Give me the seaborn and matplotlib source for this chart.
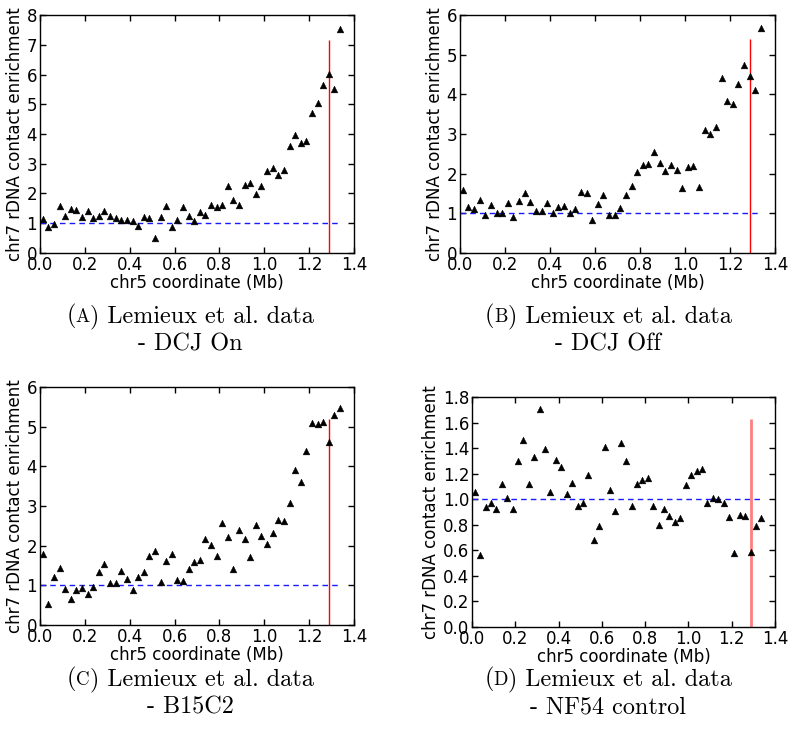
import matplotlib
matplotlib.use("Agg")
import matplotlib.pyplot as plt
import seaborn as sns
import pandas as pd

# Bin centres along chr5 (Mb)
chr5_mb = [0.0125, 0.0375, 0.0625, 0.0875, 0.1125, 0.1375, 0.1625, 0.1875, 0.2125,
           0.2375, 0.2625, 0.2875, 0.3125, 0.3375, 0.3625, 0.3875, 0.4125, 0.4375,
           0.4625, 0.4875, 0.5125, 0.5375, 0.5625, 0.5875, 0.6125, 0.6375, 0.6625,
           0.6875, 0.7125, 0.7375, 0.7625, 0.7875, 0.8125, 0.8375, 0.8625, 0.8875,
           0.9125, 0.9375, 0.9625, 0.9875, 1.0125, 1.0375, 1.0625, 1.0875, 1.1125,
           1.1375, 1.1625, 1.1875, 1.2125, 1.2375, 1.2625, 1.2875, 1.3125, 1.3375]

# chr7 rDNA contact enrichment per bin
dcj_on = [1.15, 0.87, 0.97, 1.58, 1.25, 1.47, 1.45, 1.21, 1.41, 1.17, 1.24, 1.41,
          1.26, 1.17, 1.10, 1.12, 1.08, 0.91, 1.21, 1.17, 0.51, 1.22, 1.58, 0.87,
          1.11, 1.54, 1.23, 1.08, 1.39, 1.28, 1.61, 1.54, 1.61, 2.25, 1.79, 1.63,
          2.30, 2.36, 1.97, 2.26, 2.75, 2.85, 2.63, 2.79, 3.60, 3.96, 3.70, 3.75,
          4.72, 5.03, 5.64, 6.03, 5.51, 7.52]
dcj_off = [1.60, 1.15, 1.10, 1.33, 0.96, 1.21, 1.02, 1.00, 1.27, 0.90, 1.31, 1.52,
           1.28, 1.07, 1.07, 1.27, 1.00, 1.17, 1.19, 1.01, 1.12, 1.55, 1.52, 0.82,
           1.23, 1.45, 0.96, 0.96, 1.14, 1.47, 1.70, 2.03, 2.22, 2.25, 2.55, 2.27,
           2.06, 2.21, 2.10, 1.65, 2.17, 2.19, 1.67, 3.10, 3.00, 3.17, 4.40, 3.84,
           3.76, 4.25, 4.74, 4.47, 4.10, 5.67]
b15c2 = [1.78, 0.54, 1.21, 1.43, 0.91, 0.66, 0.89, 0.94, 0.78, 0.95, 1.34, 1.53,
         1.05, 1.06, 1.37, 1.16, 0.87, 1.22, 1.34, 1.75, 1.87, 1.08, 1.62, 1.78,
         1.14, 1.10, 1.41, 1.58, 1.64, 2.17, 2.01, 1.73, 2.57, 2.23, 1.41, 2.39,
         2.18, 1.72, 2.53, 2.24, 2.05, 2.31, 2.64, 2.63, 3.08, 3.91, 3.60, 4.39,
         5.10, 5.06, 5.13, 4.61, 5.29, 5.47]
nf54 = [1.06, 0.56, 0.94, 0.97, 0.92, 1.12, 1.01, 0.92, 1.30, 1.46, 1.12, 1.33,
        1.71, 1.39, 1.06, 1.31, 1.25, 1.04, 1.13, 0.95, 0.97, 1.19, 0.68, 0.79,
        1.41, 1.07, 0.91, 1.44, 1.30, 0.95, 1.12, 1.15, 1.17, 0.95, 0.80, 0.92,
        0.87, 0.82, 0.85, 1.11, 1.19, 1.22, 1.24, 0.97, 1.01, 1.00, 0.97, 0.86,
        0.58, 0.88, 0.87, 0.59, 0.79, 0.85]

x_ticks = [0.0, 0.2, 0.4, 0.6, 0.8, 1.0, 1.2, 1.4]
marker_pos_mb = 1.29
baseline_end_mb = 1.33

panel_letters = ["A", "B", "C", "D"]
panel_names = ["DCJ On", "DCJ Off", "B15C2", "NF54 control"]
panel_values = [dcj_on, dcj_off, b15c2, nf54]
panel_ymax = [8, 6, 6, 1.8]
panel_yticks = [[0, 1, 2, 3, 4, 5, 6, 7, 8],
                [0, 1, 2, 3, 4, 5, 6],
                [0, 1, 2, 3, 4, 5, 6],
                [0.0, 0.2, 0.4, 0.6, 0.8, 1.0, 1.2, 1.4, 1.6, 1.8]]

sns.set_style("ticks")
plt.rcParams.update({
    "font.family": ["DejaVu Sans"],
    "text.color": "black",
    "axes.labelcolor": "black",
    "axes.edgecolor": "black",
    "xtick.color": "black",
    "ytick.color": "black",
})

W, H = 788, 729
fig = plt.figure(figsize=(W / 100, H / 100), dpi=100)


def px_rect(left, top, right, bottom):
    return [left / W, 1 - bottom / H, (right - left) / W, (bottom - top) / H]


# axes boxes in pixels: left, top, right, bottom
boxes = [(40, 15, 354, 253), (460, 15, 775, 253),
         (40, 387, 354, 625), (472, 397, 775, 627)]
# caption centres (x) and baselines (y) in pixels
captions = [(190, 322, 351), (608, 322, 351), (190, 685, 714), (608, 685, 714)]

for i in range(4):
    ax = fig.add_axes(px_rect(*boxes[i]))
    df = pd.DataFrame({"x": chr5_mb, "y": panel_values[i]})
    ax.hlines(1.0, 0, baseline_end_mb, colors="#1a1aff", linestyles=(0, (4, 3)),
              linewidth=1.0, zorder=1)
    top = 0.95 * max(panel_values[i])
    if i == 3:
        ax.vlines(marker_pos_mb, 0, top, colors="#ff7f7f", linewidth=2.0, zorder=1)
    else:
        ax.vlines(marker_pos_mb, 0, top, colors="red", linewidth=1.0, zorder=1)
    sns.scatterplot(data=df, x="x", y="y", ax=ax, marker="^", color="black",
                    s=24, edgecolor="black", linewidth=0.3, zorder=3, legend=False)
    ax.set_xlim(0, 1.4)
    ax.set_ylim(0, panel_ymax[i])
    ax.set_xticks(x_ticks)
    ax.set_xticklabels([f"{t:.1f}" for t in x_ticks])
    ax.set_yticks(panel_yticks[i])
    if i == 3:
        ax.set_yticklabels([f"{t:.1f}" for t in panel_yticks[i]])
    else:
        ax.set_yticklabels([str(t) for t in panel_yticks[i]])
    ax.tick_params(direction="in", top=True, right=True, length=4, width=1,
                   pad=2, labelsize=12)
    for sp in ax.spines.values():
        sp.set_visible(True)
        sp.set_linewidth(1.0)
        sp.set_color("black")
    ax.set_xlabel("chr5 coordinate (Mb)", fontsize=12, labelpad=0)
    ax.set_ylabel("chr7 rDNA contact enrichment", fontsize=12, labelpad=2)

# Captions set in Computer Modern with a small-caps panel letter
cap_size = 17.4
renderer = fig.canvas.get_renderer()
for i in range(4):
    cx, b1, b2 = captions[i]
    parts = [("(", cap_size), (panel_letters[i], cap_size * 0.78),
             (") Lemieux et al. data", cap_size)]
    texts = []
    widths = []
    for s, fs in parts:
        t = fig.text(0, 0, s, fontsize=fs, family="cmr10", ha="left", va="baseline")
        texts.append(t)
        widths.append(t.get_window_extent(renderer).width)
    xpos = cx - sum(widths) / 2
    for t, w in zip(texts, widths):
        t.set_position((xpos / W, 1 - b1 / H))
        xpos += w
    fig.text(cx / W, 1 - b2 / H, "- " + panel_names[i], fontsize=cap_size,
             family="cmr10", ha="center", va="baseline")

fig.savefig("out.png", dpi=100)
